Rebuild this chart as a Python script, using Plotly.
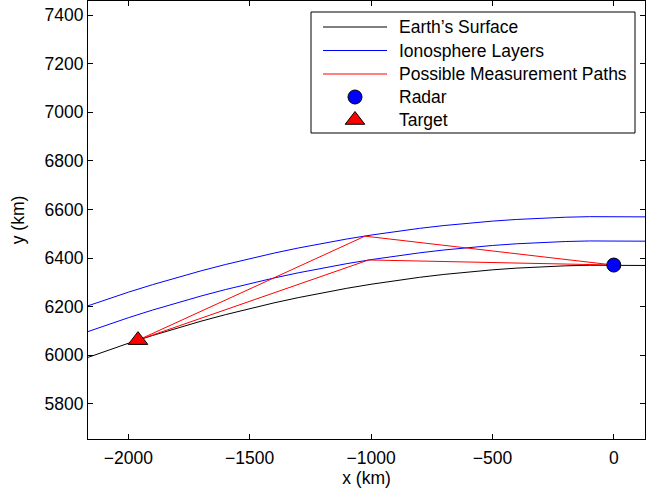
import plotly.graph_objects as go

# Sample points along each curve (x in km, y in km)
x_curve = [-2200, -2100, -2000, -1900, -1800, -1700, -1600, -1500, -1400, -1300,
           -1200, -1100, -1000, -900, -800, -700, -600, -500, -400, -300,
           -200, -100, 0, 100, 150]
y_earth = [5979.1, 6014.95, 6048.94, 6081.09, 6111.44, 6140.0, 6166.82, 6191.9, 6215.27, 6236.96,
           6256.97, 6275.32, 6292.03, 6307.11, 6320.57, 6332.43, 6342.68, 6351.35, 6358.43, 6363.93,
           6367.86, 6370.22, 6371.0, 6370.22, 6369.2]
y_iono_low = [6085.54, 6120.77, 6154.17, 6185.78, 6215.61, 6243.7, 6270.08, 6294.75, 6317.74, 6339.07,
              6358.76, 6376.82, 6393.27, 6408.11, 6421.36, 6433.03, 6443.12, 6451.65, 6458.63, 6464.04,
              6467.91, 6470.23, 6471.0, 6470.23, 6469.26]
y_iono_high = [6191.77, 6226.4, 6259.24, 6290.31, 6319.66, 6347.29, 6373.23, 6397.5, 6420.13, 6441.12,
               6460.5, 6478.27, 6494.46, 6509.07, 6522.12, 6533.61, 6543.55, 6551.95, 6558.81, 6564.15,
               6567.96, 6570.24, 6571.0, 6570.24, 6569.29]

# Radar and target positions
radar_x, radar_y = [0], [6371]
target_x, target_y = [-1960], [6062]

# Two reflection paths: target -> ionosphere bounce -> radar
path_low_x = [-1960, -1010, 0]
path_low_y = [6062, 6392, 6371]
path_high_x = [-1960, -1025, 0]
path_high_y = [6062, 6490, 6371]

x_ticks = [-2000, -1500, -1000, -500, 0]
y_ticks = [5800, 6000, 6200, 6400, 6600, 6800, 7000, 7200, 7400]

legend_labels = ["Earth\u2019s Surface", "Ionosphere Layers", "Possible Measurement Paths",
                 "Radar", "Target"]

FONT = "Liberation Sans, Arial, Helvetica, sans-serif"
FSIZE = 17.5

BLACK, BLUE, RED = "black", "#0000ff", "#ff0000"
radar_marker = dict(symbol="circle", size=14, color=BLUE, line=dict(color="black", width=1))
target_marker = dict(symbol="triangle-up", size=17, color=RED, line=dict(color="black", width=1))

fig = go.Figure()

fig.add_trace(go.Scatter(x=x_curve, y=y_earth, mode="lines",
                         line=dict(color=BLACK, width=1), name=legend_labels[0]))
fig.add_trace(go.Scatter(x=x_curve, y=y_iono_low, mode="lines",
                         line=dict(color=BLUE, width=1), name=legend_labels[1]))
fig.add_trace(go.Scatter(x=x_curve, y=y_iono_high, mode="lines",
                         line=dict(color=BLUE, width=1), name=legend_labels[1]))
fig.add_trace(go.Scatter(x=path_low_x, y=path_low_y, mode="lines",
                         line=dict(color=RED, width=1), name=legend_labels[2]))
fig.add_trace(go.Scatter(x=path_high_x, y=path_high_y, mode="lines",
                         line=dict(color=RED, width=1), name=legend_labels[2]))
fig.add_trace(go.Scatter(x=radar_x, y=radar_y, mode="markers",
                         marker=radar_marker, name=legend_labels[3]))
fig.add_trace(go.Scatter(x=target_x, y=target_y, mode="markers",
                         marker=target_marker, name=legend_labels[4]))

# --- Boxed legend drawn on a pixel-based overlay axis pair (x2/y2) ---
LEG_LEFT, LEG_RIGHT, LEG_TOP, LEG_BOTTOM = 311, 635, 12, 133
row_y = [27, 50.5, 74, 97, 120]
sample_x0, sample_x1, sample_xc, text_x = 323, 387, 355, 397

fig.add_shape(type="rect", xref="x2", yref="y2",
              x0=LEG_LEFT, x1=LEG_RIGHT, y0=LEG_TOP, y1=LEG_BOTTOM,
              line=dict(color="black", width=1), fillcolor="white", layer="below")

for yy, col in zip(row_y[:3], [BLACK, BLUE, RED]):
    fig.add_trace(go.Scatter(x=[sample_x0, sample_x1], y=[yy, yy], mode="lines",
                             line=dict(color=col, width=1), xaxis="x2", yaxis="y2",
                             hoverinfo="skip"))
fig.add_trace(go.Scatter(x=[sample_xc], y=[row_y[3]], mode="markers", marker=radar_marker,
                         xaxis="x2", yaxis="y2", hoverinfo="skip"))
fig.add_trace(go.Scatter(x=[sample_xc], y=[row_y[4]], mode="markers", marker=target_marker,
                         xaxis="x2", yaxis="y2", hoverinfo="skip"))

for yy, label in zip(row_y, legend_labels):
    fig.add_annotation(x=text_x, y=yy, xref="x2", yref="y2", text=label, showarrow=False,
                       xanchor="left", yanchor="middle",
                       font=dict(family=FONT, size=FSIZE, color="black"))

axis_common = dict(
    showgrid=False, zeroline=False,
    showline=True, linecolor="black", linewidth=1,
    mirror="ticks", ticks="inside", ticklen=5, tickcolor="black", tickwidth=1,
    tickfont=dict(family=FONT, size=FSIZE, color="black"),
)

fig.update_layout(
    xaxis=dict(range=[-2166, 128.5], tickvals=x_ticks, ticklabelstandoff=3,
               title=dict(text="x (km)", font=dict(family=FONT, size=FSIZE, color="black"),
                          standoff=4),
               **axis_common),
    yaxis=dict(range=[5655, 7458], tickvals=y_ticks,
               title=dict(text="y (km)", font=dict(family=FONT, size=FSIZE, color="black"),
                          standoff=15),
               **axis_common),
    xaxis2=dict(range=[88, 645], overlaying="x", anchor="y2", visible=False),
    yaxis2=dict(range=[439, 1], overlaying="y", anchor="x2", visible=False),
    width=656, height=495,
    margin=dict(l=88, r=11, t=1, b=56),
    paper_bgcolor="white", plot_bgcolor="white",
    font=dict(family=FONT, size=FSIZE, color="black"),
    showlegend=False,
)

fig.write_html("out.html")
